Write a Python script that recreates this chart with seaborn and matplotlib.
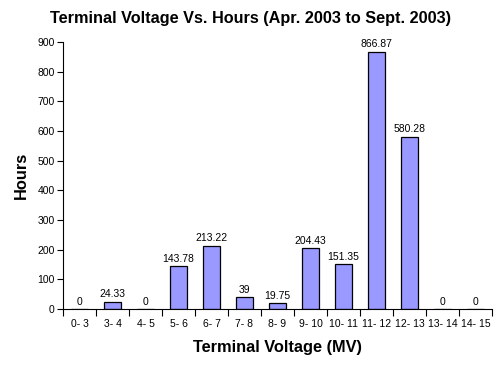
import matplotlib
matplotlib.use("Agg")
import matplotlib.pyplot as plt
import seaborn as sns
import numpy as np
import pandas as pd

categories = ["0- 3", "3- 4", "4- 5", "5- 6", "6- 7", "7- 8", "8- 9", "9- 10",
              "10- 11", "11- 12", "12- 13", "13- 14", "14- 15"]
hours = [0, 24.33, 0, 143.78, 213.22, 39, 19.75, 204.43, 151.35, 866.87, 580.28, 0, 0]
value_labels = ["0", "24.33", "0", "143.78", "213.22", "39", "19.75", "204.43",
                "151.35", "866.87", "580.28", "0", "0"]

sns.set_style("white")
plt.rcParams['font.family'] = ['Liberation Sans', 'DejaVu Sans']
plt.rcParams['text.color'] = 'black'
plt.rcParams['axes.labelcolor'] = 'black'
plt.rcParams['xtick.color'] = 'black'
plt.rcParams['ytick.color'] = 'black'

df = pd.DataFrame({"cat": categories, "hours": hours})

fig = plt.figure(figsize=(5.02, 3.65), dpi=100)
ax = fig.add_axes([0.1255, 0.1534, 0.8545, 0.7316])
sns.barplot(data=df, x="cat", y="hours", color="#9999FF", saturation=1,
            edgecolor="black", linewidth=0.9, width=0.5, ax=ax)

ax.set_xlim(-0.5, len(categories) - 0.5)
ax.set_ylim(0, 900)
ax.set_yticks(np.arange(0, 901, 100))
ax.tick_params(axis='y', which='major', direction='out', length=4, width=0.8,
               labelsize=7.5, pad=2, left=True)
ax.set_xticks(np.arange(len(categories)))
ax.set_xticklabels(categories, fontsize=7.5)
ax.tick_params(axis='x', which='major', length=0, pad=7)
ax.set_xticks(np.arange(-0.5, len(categories), 1), minor=True)
ax.tick_params(axis='x', which='minor', direction='out', length=5, width=0.8, bottom=True)

for s in ["top", "right"]:
    ax.spines[s].set_visible(False)
for s in ["left", "bottom"]:
    ax.spines[s].set_color("black")
    ax.spines[s].set_linewidth(0.8)

for i, (v, lab) in enumerate(zip(hours, value_labels)):
    ax.text(i, v + 8, lab, ha='center', va='bottom', fontsize=7.5)

ax.set_xlabel("Terminal Voltage (MV)", fontsize=11.8, fontweight='bold', labelpad=8)
ax.set_ylabel("Hours", fontsize=11.8, fontweight='bold', labelpad=6)
fig.suptitle("Terminal Voltage Vs. Hours (Apr. 2003 to Sept. 2003)", fontsize=11.7,
             fontweight='bold', y=0.97)

fig.savefig("out.png", dpi=100)
